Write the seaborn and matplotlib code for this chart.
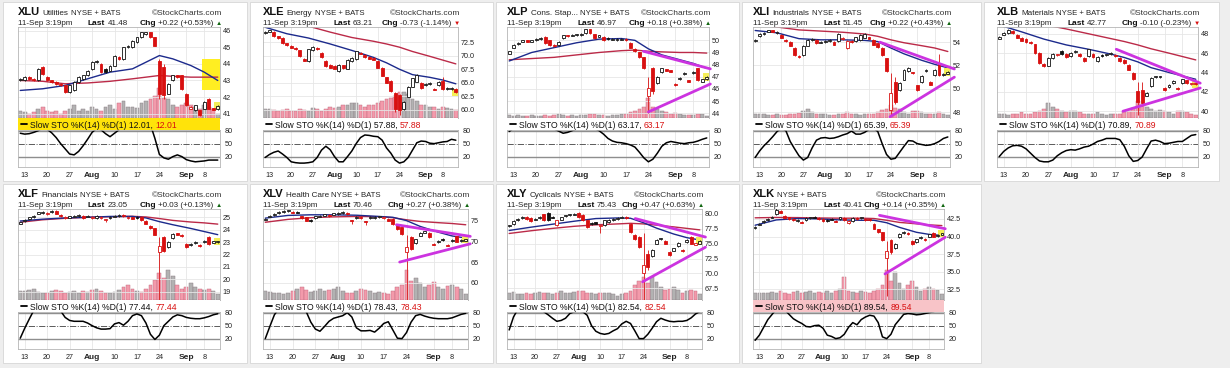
import numpy as np
import matplotlib
matplotlib.use("Agg")
import matplotlib.pyplot as plt
import seaborn as sns
from matplotlib.patches import Rectangle
from matplotlib.lines import Line2D

# ---------------- data ----------------
DAYS = list(range(45))                      # Jul 10 ... Sep 11 2015 trading days
TICK_DAYS = [1, 6, 11, 16, 21, 26, 31, 37, 41]
TICK_LABELS = ["13", "20", "27", "Aug", "10", "17", "24", "Sep", "8"]
MA_DAYS = [0, 5, 10, 15, 20, 25, 28, 31, 34, 38, 41, 44]

XLU_OPEN = [43.0,43.0,43.2,43.1,43.0,43.8,43.2,43.0,42.9,42.8, 42.7,42.3,42.4,42.9,43.1,43.3,43.7,44.1,44.0,43.7,
            43.6,43.9,44.4,44.3,45.0,45.0,45.3,45.6,45.8,45.9, 45.6,44.2,43.8,42.2,43.0,43.3,43.3,42.2,41.3,41.2,
            41.2,41.3,41.9,41.3,41.26]
XLU_CLOSE = [43.1,43.2,43.1,43.0,43.7,43.4,43.0,42.9,42.8,42.7, 42.3,42.7,42.9,43.2,43.3,43.6,44.1,44.2,43.5,43.5,
             43.9,44.5,44.3,45.0,45.1,45.4,45.6,45.9,45.9,45.6, 45.1,42.2,42.1,42.8,43.3,43.2,42.5,41.5,41.4,41.5,
             40.9,41.7,41.3,41.26,41.48]
XLU_WICKS = {31: (41.9, 44.3), 32: (41.9, 44.0)}
XLU_VOL = [20,15,12,15,25,30,20,15,18,12, 20,25,35,20,25,18,30,25,20,30, 35,25,40,45,30,30,28,40,45,50,
           60,80,55,50,35,30,35,40,35,30, 25,35,30,25,12]
XLU_STO = [74,72,73,76,80,86,83,75,64,50, 38,26,24,32,45,60,76,85,82,73, 66,74,82,90,95,96,95,97,96,94,
           62,25,17,14,20,24,20,13,10,8, 9,10,12,12,12.01]
XLU_MA20 = [42.4,42.5,42.7,43.1,43.5,43.7,44.1,44.5,44.3,43.9,43.5,43.0]
XLU_MA50 = [43.0,42.95,42.8,42.85,42.95,43.1,43.2,43.3,43.25,43.2,43.2,43.2]
XLU_BOX = (40.5, 42.4, 44.5, 44.3)

XLE_OPEN = [74.2,74.5,74.4,73.6,73.3,72.3,71.8,71.5,71.0,69.4, 69.0,71.0,71.5,70.6,69.0,68.3,68.2,67.2,68.2,67.6,
            69.0,69.4,70.6,70.2,69.8,69.6,69.0,67.7,66.0,65.3, 63.1,62.8,60.1,62.4,64.3,65.2,65.0,64.5,64.8,63.9,
            64.6,65.3,63.9,63.9,63.9]
XLE_CLOSE = [74.5,74.7,73.6,73.3,72.3,72.0,71.5,71.3,70.0,69.1, 71.2,71.6,71.3,69.8,68.1,67.8,67.6,68.3,67.7,69.2,
             69.6,70.8,70.4,69.7,69.5,69.3,67.8,66.3,65.0,63.4, 60.2,59.9,61.4,64.3,65.8,66.4,64.0,64.8,64.9,63.7,
             65.1,63.8,63.9,63.94,63.21]
XLE_WICKS = {30: (59.5, 63.3), 31: (59.0, 62.9), 41: (63.6, 66.0)}
XLE_VOL = [25,25,22,20,22,25,20,18,25,22, 20,28,25,20,25,30,28,30,35,35, 40,40,35,30,35,35,40,45,50,55,
           60,70,70,65,50,45,35,35,30,30, 25,30,28,25,22]
XLE_STO = [18,25,30,33,26,18,8,6,5,5, 6,8,18,35,44,36,20,8,8,20, 33,50,64,70,69,67,66,58,40,28,
           12,5,8,18,35,52,56,55,51,50, 52,54,55,60,57.88]
XLE_MA20 = [75.3,74.1,73.3,72.2,71.0,69.7,68.7,67.5,66.5,66.0,65.5,64.8]
XLE_MA50 = [77.5,76.6,75.5,74.4,73.4,72.7,72.2,71.6,70.8,69.9,69.2,68.5]

XLP_OPEN = [48.9,49.4,49.7,49.9,50.0,49.9,50.0,50.1,50.3,50.0, 49.6,49.6,50.2,50.4,50.4,50.45,50.5,50.6,50.9,50.5,
            50.3,50.3,50.2,50.1,50.0,50.1,50.1,49.8,49.3,49.0, 48.6,45.4,47.7,46.5,47.4,47.6,47.5,46.4,46.8,47.2,
            46.7,47.3,47.7,46.6,46.8]
XLP_CLOSE = [49.1,49.6,49.8,50.0,49.9,50.0,50.1,50.2,49.8,49.6, 49.5,49.9,50.4,50.35,50.45,50.45,50.5,50.9,50.6,50.2,
             50.4,50.0,50.1,50.1,50.1,50.1,50.0,49.4,49.1,48.6, 47.7,46.1,45.8,47.0,47.7,47.5,47.45,46.3,46.9,47.3,
             46.6,47.4,46.7,46.79,46.97]
XLP_WICKS = {31: (44.0, 47.0), 32: (45.6, 47.8)}
XLP_VOL = [8,6,7,5,6,8,6,5,7,6, 8,10,7,6,8,6,7,9,10,12, 8,7,6,7,8,10,12,15,18,25,
           30,55,30,25,20,15,12,14,10,8, 7,9,12,10,6]
XLP_STO = [78,86,90,92,93,92,90,88,87,86, 84,79,74,76,80,84,86,88,86,85, 80,72,62,56,53,52,50,47,42,30,
           17,8,14,28,44,52,55,53,51,50, 52,53,56,60,63.17]
XLP_MA20 = [48.3,49.0,49.4,49.8,50.1,50.15,50.0,49.3,48.8,48.4,48.1,47.7]
XLP_MA50 = [48.4,48.5,48.6,48.8,49.0,49.15,49.2,49.1,49.05,49.0,49.0,48.95]
XLP_TREND = [(29.9, 49.1, 44.8, 47.65), (31.0, 44.1, 44.8, 46.4)]

XLI_OPEN = [54.1,54.5,54.7,54.9,55.0,54.8,54.6,54.2,54.0,53.5, 52.8,52.9,53.7,54.2,54.2,54.0,54.0,54.1,54.0,54.1,
            54.3,53.5,54.1,54.1,54.2,54.4,54.4,54.2,53.9,53.5, 52.6,48.2,50.6,49.9,50.8,51.5,51.4,50.3,50.6,51.5,
            50.6,51.2,52.1,51.2,51.3]
XLI_CLOSE = [54.2,54.7,54.8,55.0,54.9,54.9,54.4,54.1,53.7,52.9, 52.7,53.7,54.2,54.25,53.9,54.0,54.1,54.2,53.8,54.7,
             54.3,54.1,54.0,54.4,54.6,54.7,54.3,53.8,53.6,52.9, 51.5,49.6,48.9,50.5,51.6,51.8,51.35,49.9,51.1,51.6,
             50.35,51.65,51.2,51.23,51.45]
XLI_WICKS = {31: (47.6, 51.4), 32: (48.7, 51.0), 42: (51.1, 53.0)}
XLI_VOL = [10,12,10,8,8,10,8,8,10,12, 14,20,25,15,10,12,10,8,8,10, 12,15,10,10,8,10,12,12,15,22,
           25,35,28,25,15,12,18,20,15,12, 10,12,15,10,8]
XLI_STO = [18,33,45,55,66,78,86,80,55,38, 22,12,18,40,58,63,64,62,63,66, 70,73,79,72,72,76,83,86,78,50,
           25,14,16,30,44,57,56,50,48,46, 47,50,55,62,65.39]
XLI_MA20 = [55.0,54.8,54.3,54.2,54.2,54.15,54.05,53.5,53.0,52.45,52.1,51.8]
XLI_MA50 = [55.5,55.3,55.05,54.95,54.85,54.7,54.5,54.2,53.95,53.7,53.5,53.2]
XLI_TREND = [(28.5, 54.0, 45.5, 51.7), (30.8, 47.6, 45.5, 51.0)]

XLB_OPEN = [47.5,47.9,48.1,48.3,47.9,47.6,47.5,47.2,46.9,46.0, 44.9,44.7,45.5,45.8,46.2,45.9,45.7,46.1,45.9,45.5,
            45.7,45.9,45.2,45.8,45.8,45.9,45.8,45.5,45.3,44.8, 44.0,42.1,42.2,41.6,42.6,43.5,43.5,42.4,42.5,42.9,
            42.35,42.9,43.2,42.8,42.9]
XLB_CLOSE = [47.65,48.1,48.4,48.1,47.6,47.3,47.1,47.0,46.0,45.0, 44.65,45.5,45.9,45.85,45.9,45.6,46.0,46.2,45.7,45.2,
             46.4,45.6,45.6,45.7,45.85,46.0,45.75,45.2,45.0,44.3, 43.3,41.0,40.8,41.9,43.45,43.6,43.6,42.2,42.75,43.1,
             42.3,43.3,42.9,42.87,42.77]
XLB_WICKS = {31: (39.6, 43.0), 32: (40.5, 43.0)}
XLB_VOL = [12,10,8,10,12,15,12,10,15,18, 25,40,30,25,20,15,18,20,15,12, 10,12,15,10,8,10,12,10,15,20,
           28,45,35,30,25,20,22,18,15,12, 18,20,15,12,8]
XLB_STO = [20,32,40,45,46,44,38,28,18,10, 8,8,12,22,29,34,36,35,38,42, 44,49,55,58,62,62,62,59,44,22,
           9,11,19,38,56,58,55,50,51,53, 55,55,62,69,70.89]
XLB_MA20 = [48.9,48.2,47.45,46.85,46.4,45.9,45.55,45.1,44.5,44.0,43.65,43.3]
XLB_MA50 = [49.9,49.4,48.95,48.5,48.0,47.5,47.2,46.85,46.45,46.0,45.65,45.3]
XLB_TREND = [(26.2, 46.4, 45.0, 42.9), (27.7, 40.0, 45.0, 42.4)]

XLF_OPEN = [24.5,24.7,24.9,25.0,25.3,25.4,25.3,25.4,25.5,25.2, 25.0,25.0,25.1,25.1,25.1,25.1,25.0,24.95,25.0,24.8,
            25.0,25.1,25.1,25.15,25.0,25.0,25.0,25.0,24.7,24.3, 24.1,22.2,23.4,22.6,23.3,23.7,23.55,22.85,22.8,22.95,
            22.75,23.0,23.4,23.0,23.0]
XLF_CLOSE = [24.6,24.8,25.0,25.1,25.4,25.4,25.3,25.5,25.3,25.1, 25.0,25.05,25.1,25.15,24.95,25.1,25.0,25.1,25.0,24.8,
             25.0,25.1,25.15,25.1,25.0,24.9,24.95,24.8,24.5,24.1, 23.6,22.65,22.3,23.0,23.67,23.6,23.5,22.6,22.85,23.0,
             22.7,23.1,22.85,23.02,23.05]
XLF_WICKS = {19: (24.6, 24.85), 31: (18.3, 23.4), 33: (22.5, 23.1)}
XLF_VOL = [25,25,28,30,22,18,18,25,28,25, 20,22,25,20,25,22,28,30,25,20, 20,22,28,35,40,30,25,22,30,40,
           55,72,60,82,65,40,30,35,45,35, 30,28,30,25,15]
XLF_STO = [21,44,65,85,95,97,98,96,92,84, 69,62,60,60,60,56,50,45,42,42, 43,54,57,51,60,73,77,73,56,30,
           18,28,50,60,70,75,73,69,67,66, 66,68,71,75,77.44]
XLF_MA20 = [24.7,24.85,24.95,25.0,25.07,25.07,24.95,24.65,24.4,24.1,23.85,23.6]
XLF_MA50 = [24.6,24.8,24.92,25.0,25.05,25.08,25.03,24.9,24.75,24.62,24.55,24.45]

XLV_OPEN = [75.3,76.0,76.4,76.8,77.1,77.3,77.1,77.1,76.0,75.8, 75.1,75.6,76.0,76.3,76.3,76.6,76.6,76.9,76.8,75.1,
            75.7,75.8,74.8,75.6,75.6,75.8,75.8,75.4,75.4,74.0, 73.4,67.4,71.0,69.5,71.4,72.2,72.0,69.4,69.8,70.6,
            69.2,70.0,71.2,70.1,70.2]
XLV_CLOSE = [75.4,76.2,76.6,77.0,77.2,77.4,77.0,77.0,75.6,75.0, 75.0,76.0,76.2,76.4,76.2,76.6,76.8,77.0,76.5,75.0,
             75.8,75.7,74.6,75.8,75.8,76.0,75.8,75.0,74.2,73.0, 71.8,68.6,68.2,70.5,72.0,72.3,71.0,69.25,70.0,70.4,
             69.0,70.4,69.9,70.19,70.46]
XLV_WICKS = {19: (74.2, 75.2), 22: (74.0, 75.0), 31: (55.9, 71.5)}
XLV_VOL = [25,22,20,18,15,20,25,30,35,28, 22,25,30,25,28,30,35,25,20,18, 25,30,28,25,20,22,18,15,25,35,
           40,82,50,60,45,35,40,48,35,30, 38,40,35,30,15]
XLV_STO = [20,48,75,90,95,97,96,95,92,82, 58,42,37,48,60,67,70,73,80,70, 45,38,38,39,35,44,55,59,40,21,
           20,34,58,73,76,72,69,67,66,66, 66,68,72,76,78.43]
XLV_MA20 = [75.6,76.25,76.4,76.4,76.3,76.0,75.8,75.0,73.6,72.2,71.3,70.8]
XLV_MA50 = [74.6,75.3,75.7,75.9,76.0,75.95,75.7,75.2,74.8,74.5,74.3,74.0]
XLV_TREND = [(28.8, 74.0, 45.0, 71.2), (29.5, 65.0, 45.0, 69.4)]

XLY_OPEN = [77.9,78.3,79.0,79.4,79.5,79.3,79.0,79.3,79.9,80.1, 79.5,78.05,79.0,79.6,79.8,79.9,80.1,79.8,78.9,78.5,
            78.5,78.0,78.05,78.6,79.0,79.2,79.4,79.5,78.3,76.5, 76.1,70.0,73.3,72.9,75.0,75.7,75.4,73.6,73.8,74.6,
            73.9,75.3,76.1,74.9,75.0]
XLY_CLOSE = [78.05,78.8,79.1,79.4,79.1,78.8,79.2,79.4,78.9,78.95, 79.4,78.9,79.4,79.7,79.85,80.0,79.4,78.9,77.8,78.3,
             78.4,78.05,78.9,79.0,79.1,79.3,79.5,79.3,76.9,75.8, 74.4,71.4,71.1,73.9,75.6,75.9,75.0,73.1,74.2,75.1,
             73.8,75.6,75.0,74.96,75.43]
XLY_WICKS = {21: (76.7, 78.2), 31: (65.6, 76.7), 32: (70.5, 74.0)}
XLY_VOL = [20,22,15,15,18,15,18,22,20,18, 15,20,25,18,20,22,25,25,20,18, 15,18,20,18,15,12,15,18,25,40,
           50,62,45,62,48,35,28,30,35,28, 20,25,28,25,15]
XLY_STO = [40,70,88,95,96,97,95,90,82,75, 67,60,62,67,78,82,84,82,74,50, 37,32,30,32,38,43,54,60,55,38,
           20,20,30,44,59,67,63,60,59,60, 60,62,68,77,82.54]
XLY_MA20 = [77.2,77.75,78.25,78.75,79.2,79.3,79.25,78.5,77.6,76.6,76.0,75.6]
XLY_MA50 = [76.7,77.15,77.55,77.9,78.15,78.3,78.4,78.3,78.1,77.8,77.55,77.3]
XLY_TREND = [(29.1, 79.2, 45.3, 76.1), (30.8, 68.6, 45.3, 74.4)]

XLK_OPEN = [41.2,41.7,42.1,42.4,42.7,43.2,43.6,42.9,42.7,42.5, 42.3,42.1,42.3,42.6,42.8,42.6,42.5,42.3,42.5,42.2,
            42.5,42.6,41.9,42.2,42.6,42.6,42.5,42.4,41.8,41.0, 40.6,36.9,39.45,38.4,39.9,40.5,40.5,39.35,39.2,39.8,
            39.6,40.0,40.5,40.1,40.3]
XLK_CLOSE = [41.3,41.8,42.2,42.5,42.8,43.7,43.4,42.6,42.5,42.3, 42.3,42.0,42.6,42.7,42.7,42.5,42.2,42.25,42.45,42.15,
             42.7,42.3,42.2,42.6,42.5,42.7,42.4,42.3,41.1,40.6, 39.45,38.0,37.8,39.0,40.4,40.6,40.4,38.9,39.6,40.0,
             39.5,40.3,40.0,40.27,40.41]
XLK_WICKS = {5: (43.1, 44.0), 31: (31.6, 39.4), 32: (37.5, 39.6)}
XLK_VOL = [20,20,18,18,22,20,25,18,15,22, 25,20,22,25,20,22,20,25,20,25, 30,62,25,22,20,25,22,18,25,30,
           40,82,50,75,45,30,40,50,35,25, 30,35,30,28,15]
XLK_STO = [16,28,46,64,76,88,92,86,76,66, 60,55,48,47,50,51,44,28,25,20, 22,30,46,57,52,64,70,74,72,57,
           24,20,30,52,64,76,78,77,75,76, 78,80,82,86,89.54]
XLK_MA20 = [41.6,42.35,42.55,42.5,42.35,42.3,42.3,41.95,41.3,40.6,40.3,40.15]
XLK_MA50 = [42.65,42.7,42.68,42.63,42.6,42.6,42.55,42.3,42.0,41.8,41.65,41.55]
XLK_TREND = [(29.3, 43.0, 44.8, 41.1), (30.6, 34.7, 44.8, 39.9)]

TICKERS = ["XLU", "XLE", "XLP", "XLI", "XLB", "XLF", "XLV", "XLY", "XLK"]
NAMES = ["Utilities", "Energy", "Cons. Stap...", "Industrials", "Materials",
         "Financials", "Health Care", "Cyclicals", ""]
LAST = ["41.48", "63.21", "46.97", "51.45", "42.77", "23.05", "70.46", "75.43", "40.41"]
CHG = ["+0.22 (+0.53%)", "-0.73 (-1.14%)", "+0.18 (+0.38%)", "+0.22 (+0.43%)", "-0.10 (-0.23%)",
       "+0.03 (+0.13%)", "+0.27 (+0.38%)", "+0.47 (+0.63%)", "+0.14 (+0.35%)"]
STO_LAST = ["12.01", "57.88", "63.17", "65.39", "70.89", "77.44", "78.43", "82.54", "89.54"]

# ---------------- style / layout ----------------
W, H = 1230, 368
RED = "#d81010"
BLACK = "#111111"
BLUE = "#1c2a8c"
MAROON = "#bb2a48"
MAGENTA = "#cc33e0"

PANELS = [
    dict(o=XLU_OPEN, c=XLU_CLOSE, w=XLU_WICKS, v=XLU_VOL, s=XLU_STO, m1=XLU_MA20, m2=XLU_MA50, tr=[],
         ylim=(40.74, 46.22), ticks=[41, 42, 43, 44, 45, 46], dec=0, row=0, col=0, right=220, band="#ffe30a"),
    dict(o=XLE_OPEN, c=XLE_CLOSE, w=XLE_WICKS, v=XLE_VOL, s=XLE_STO, m1=XLE_MA20, m2=XLE_MA50, tr=[],
         ylim=(58.45, 75.35), ticks=[60, 62.5, 65, 67.5, 70, 72.5], dec=1, row=0, col=1, right=458, band=None),
    dict(o=XLP_OPEN, c=XLP_CLOSE, w=XLP_WICKS, v=XLP_VOL, s=XLP_STO, m1=XLP_MA20, m2=XLP_MA50, tr=XLP_TREND,
         ylim=(43.6, 51.1), ticks=[44, 45, 46, 47, 48, 49, 50], dec=0, row=0, col=2, right=709, band=None),
    dict(o=XLI_OPEN, c=XLI_CLOSE, w=XLI_WICKS, v=XLI_VOL, s=XLI_STO, m1=XLI_MA20, m2=XLI_MA50, tr=XLI_TREND,
         ylim=(47.5, 55.3), ticks=[48, 50, 52, 54], dec=0, row=0, col=3, right=950, band=None),
    dict(o=XLB_OPEN, c=XLB_CLOSE, w=XLB_WICKS, v=XLB_VOL, s=XLB_STO, m1=XLB_MA20, m2=XLB_MA50, tr=XLB_TREND,
         ylim=(39.3, 48.7), ticks=[40, 42, 44, 46, 48], dec=0, row=0, col=4, right=1198, band=None),
    dict(o=XLF_OPEN, c=XLF_CLOSE, w=XLF_WICKS, v=XLF_VOL, s=XLF_STO, m1=XLF_MA20, m2=XLF_MA50, tr=[],
         ylim=(18.33, 25.67), ticks=[19, 20, 21, 22, 23, 24, 25], dec=0, row=1, col=0, right=220, band=None),
    dict(o=XLV_OPEN, c=XLV_CLOSE, w=XLV_WICKS, v=XLV_VOL, s=XLV_STO, m1=XLV_MA20, m2=XLV_MA50, tr=XLV_TREND,
         ylim=(55.85, 77.8), ticks=[60, 65, 70, 75], dec=0, row=1, col=1, right=468, band=None),
    dict(o=XLY_OPEN, c=XLY_CLOSE, w=XLY_WICKS, v=XLY_VOL, s=XLY_STO, m1=XLY_MA20, m2=XLY_MA50, tr=XLY_TREND,
         ylim=(65.55, 80.8), ticks=[67.5, 70, 72.5, 75, 77.5, 80], dec=1, row=1, col=2, right=702, band=None),
    dict(o=XLK_OPEN, c=XLK_CLOSE, w=XLK_WICKS, v=XLK_VOL, s=XLK_STO, m1=XLK_MA20, m2=XLK_MA50, tr=XLK_TREND,
         ylim=(31.0, 43.9), ticks=[32.5, 35, 37.5, 40, 42.5], dec=1, row=1, col=3, right=944, band="#f8c4c8"),
]

CARD_X = [3, 250, 496, 742, 984]
CARD_W = [244, 243, 243, 239, 235]
AX_LEFT = [18, 263, 507, 753, 997]
ROW_Y = [0, 182]

sns.set_theme(style="white")
plt.rcParams["font.family"] = ["Liberation Sans", "DejaVu Sans"]

fig = plt.figure(figsize=(W / 100, H / 100), dpi=100, facecolor="#eeeeee")
renderer = fig.canvas.get_renderer()


def rect(x, y, w, h):
    return [x / W, 1 - (y + h) / H, w / W, h / H]


def chain(x_px, y_px, pieces, align="left", gap=2.2):
    objs = []
    x = x_px
    for s, kw in pieces:
        if not s:
            continue
        t = fig.text(x / W, 1 - y_px / H, s, ha="left", va="baseline", **kw)
        w = t.get_window_extent(renderer=renderer).width
        objs.append(t)
        x += w + gap
    total = x - gap - x_px
    if align == "right":
        for t in objs:
            px, py = t.get_position()
            t.set_position((px - total / W, py))
    return x


for i, p in enumerate(PANELS):
    y0 = ROW_Y[p["row"]]
    col = p["col"]
    left = AX_LEFT[col]
    right = p["right"]
    width = right - left

    # card (behind everything)
    fig.patches.append(Rectangle((CARD_X[col] / W, 1 - (y0 + 2 + 179) / H), CARD_W[col] / W, 179 / H,
                                 transform=fig.transFigure, facecolor="white",
                                 edgecolor="#d6d6d6", lw=0.6, zorder=-5))

    o = np.array(p["o"]); c = np.array(p["c"])
    prev = np.concatenate([[o[0]], c[:-1]])
    down = c < prev

    # ---- volume (bottom layer) ----
    axv = fig.add_axes(rect(left, y0 + 27, width, 91))
    axv.patch.set_visible(False)
    vdir = ["down" if d else "up" for d in down]
    sns.barplot(x=DAYS, y=p["v"], hue=vdir, palette={"up": "#b2b2b2", "down": "#f39aab"},
                native_scale=True, dodge=False, errorbar=None, width=0.85, saturation=1,
                legend=False, ax=axv, linewidth=0)
    for patch in axv.patches:
        fc = patch.get_facecolor()
        patch.set_edgecolor((fc[0] * 0.8, fc[1] * 0.72, fc[2] * 0.76, 1))
        patch.set_linewidth(0.35)
    axv.set_xlim(-0.5, 44.5)
    axv.set_ylim(0, 245)
    axv.axis("off")

    # ---- price ----
    ax = fig.add_axes(rect(left, y0 + 27, width, 91))
    ax.patch.set_alpha(0)
    lo_lim, hi_lim = p["ylim"]
    rng = hi_lim - lo_lim
    ax.set_xticks(TICK_DAYS)
    ax.set_xticklabels([])
    ax.yaxis.tick_right()
    ax.set_yticks(p["ticks"])
    ax.set_yticklabels([f"{t:.{p['dec']}f}" for t in p["ticks"]], fontsize=5.2, color="#222222")
    ax.tick_params(length=0, pad=2)
    ax.grid(True, color="#e6e6e6", lw=0.6)
    ax.set_axisbelow(True)
    for sp in ax.spines.values():
        sp.set_color("#b5b5b5"); sp.set_linewidth(0.6)

    if i == 0:
        d0, p0, d1, p1 = XLU_BOX
        ax.add_patch(Rectangle((d0, p0), d1 - d0, p1 - p0, facecolor="#ffee22",
                               edgecolor="none", zorder=1.5))

    sns.lineplot(x=MA_DAYS, y=p["m2"], color=MAROON, linewidth=1.0, ax=ax, sort=False, estimator=None)
    sns.lineplot(x=MA_DAYS, y=p["m1"], color=BLUE, linewidth=1.0, ax=ax, sort=False, estimator=None)
    ax.set_xlabel(""); ax.set_ylabel("")

    # last-bar highlight
    ax.scatter([DAYS[-1]], [c[-1]], s=28, marker="s", color="#f4ef58", edgecolors="none", zorder=3)

    for d in DAYS:
        colr = RED if down[d] else BLACK
        lo, hi = min(o[d], c[d]), max(o[d], c[d])
        hgt = max(hi - lo, rng * 0.012)
        mid = (lo + hi) / 2
        if d in p["w"]:
            wl, wh = p["w"][d]
        else:
            wl, wh = mid - hgt / 2 - rng * 0.008, mid + hgt / 2 + rng * 0.008
        ax.vlines(d, wl, wh, color=colr, lw=0.6, zorder=4)
        filled = c[d] < o[d]
        face = colr if filled else ("#fffbd0" if d == DAYS[-1] else "white")
        ax.bar(d, hgt, bottom=mid - hgt / 2, width=0.64, facecolor=face, edgecolor=colr,
               linewidth=0.6, zorder=5)

    for (a0, b0, a1, b1) in p["tr"]:
        ax.plot([a0, a1], [b0, b1], color=MAGENTA, lw=2.0, solid_capstyle="round",
                zorder=6, clip_on=False)

    ax.set_xlim(-0.5, 44.5)
    ax.set_ylim(lo_lim, hi_lim)

    # ---- legend band ----
    axb = fig.add_axes(rect(left, y0 + 118, width, 12))
    axb.set_xticks([]); axb.set_yticks([])
    axb.set_facecolor(p["band"] if p["band"] else "white")
    for sp in axb.spines.values():
        sp.set_visible(False)
    axb.add_line(Line2D([3 / width, 9 / width], [0.5, 0.5], color="black", lw=1.3,
                        transform=axb.transAxes))
    chain(left + 12, y0 + 127.5,
          [(f"Slow STO %K(14) %D(1) {STO_LAST[i]},", dict(fontsize=6.2, color="#111111")),
           (STO_LAST[i], dict(fontsize=6.2, color=RED))], gap=2.4)

    # ---- stochastic ----
    axs = fig.add_axes(rect(left, y0 + 130, width, 37))
    axs.set_facecolor("white")
    axs.axhline(80, color="#8e8e8e", lw=1.0, zorder=1)
    axs.axhline(20, color="#8e8e8e", lw=1.0, zorder=1)
    axs.axhline(50, color="#5a5a5a", lw=0.7, ls="-.", zorder=1)
    sns.lineplot(x=DAYS, y=p["s"], color="black", linewidth=1.1, ax=axs, sort=False, estimator=None)
    axs.set_xlabel(""); axs.set_ylabel("")
    axs.set_xlim(-0.5, 44.5)
    axs.set_ylim(-4, 81.5)
    axs.yaxis.tick_right()
    axs.set_yticks([20, 50, 80])
    axs.set_yticklabels(["20", "50", "80"], fontsize=5.2, color="#222222")
    axs.set_xticks(TICK_DAYS)
    axs.set_xticklabels(TICK_LABELS, fontsize=5.2, color="#222222")
    for lbl in axs.get_xticklabels():
        if lbl.get_text() in ("Aug", "Sep"):
            lbl.set_fontweight("bold"); lbl.set_fontsize(6.0)
    axs.tick_params(length=0, pad=3.5)
    axs.grid(axis="x", color="#e6e6e6", lw=0.6)
    axs.set_axisbelow(True)
    for sp in axs.spines.values():
        sp.set_color("#b5b5b5"); sp.set_linewidth(0.6)

    # ---- header ----
    b1 = y0 + 15
    b2 = y0 + 25
    chain(left, b1, [(TICKERS[i], dict(fontsize=8.0, fontweight="bold", color="#111111")),
                     (NAMES[i], dict(fontsize=5.9, color="#222222")),
                     ("NYSE + BATS", dict(fontsize=5.6, color="#222222"))], gap=2.3)
    fig.text((right + 2) / W, 1 - b1 / H, "©StockCharts.com", ha="right", va="baseline",
             fontsize=6.0, color="#333333")
    chain(left, b2, [("11-Sep 3:19pm", dict(fontsize=5.8, color="#222222"))])
    chain(left + 70, b2, [("Last", dict(fontsize=6.0, fontweight="bold", color="#111111")),
                          (LAST[i], dict(fontsize=5.8, color="#222222"))])
    upmove = CHG[i].startswith("+")
    chain(right + 2, b2, [("Chg", dict(fontsize=6.0, fontweight="bold", color="#111111")),
                          (CHG[i], dict(fontsize=5.8, color="#222222")),
                          ("▲" if upmove else "▼", dict(fontsize=4.5, color="#116611" if upmove else RED))],
          align="right")

fig.savefig("out.png", dpi=100, facecolor=fig.get_facecolor())
